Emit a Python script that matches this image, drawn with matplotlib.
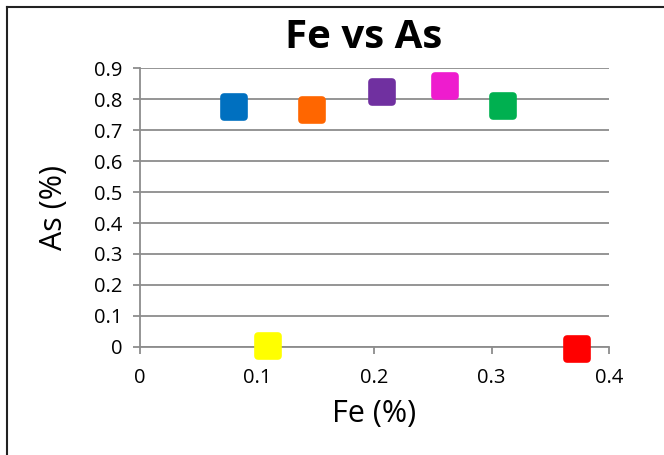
import matplotlib
matplotlib.use('Agg')
from matplotlib import pyplot as plt
from matplotlib.markers import MarkerStyle
from matplotlib.lines import Line2D

plt.rcParams['font.family'] = ['Open Sans', 'DejaVu Sans']

# data
fe = [0.08, 0.147, 0.206, 0.26, 0.31, 0.109, 0.373]
as_ = [0.775, 0.765, 0.823, 0.842, 0.777, 0.003, -0.006]
colors = ['#0070C0', '#FF6600', '#7030A0', '#EE1CCE', '#00B050', '#FFFF00', '#FF0000']

x_ticks = [0, 0.1, 0.2, 0.3, 0.4]
y_ticks = [0, 0.1, 0.2, 0.3, 0.4, 0.5, 0.6, 0.7, 0.8, 0.9]

fig = plt.figure(figsize=(6.64, 4.55), dpi=100)
ax = fig.add_axes([0.211, 0.2374, 0.706, 0.6131])

mk = MarkerStyle('s', joinstyle='round')
for x, y, c in zip(fe, as_, colors):
    ax.plot([x], [y], linestyle='none', marker=mk, markersize=15,
            markerfacecolor=c, markeredgecolor=c, markeredgewidth=5.5,
            zorder=3, clip_on=False)

ax.set_xlim(0, 0.4)
ax.set_ylim(0, 0.9)
ax.set_xticks(x_ticks)
ax.set_yticks(y_ticks)
ax.set_xticklabels(['0', '0.1', '0.2', '0.3', '0.4'])
ax.set_yticklabels(['0', '0.1', '0.2', '0.3', '0.4', '0.5', '0.6', '0.7', '0.8', '0.9'])
ax.grid(axis='y', color='#8c8c8c', linewidth=1.3)
ax.set_axisbelow(True)
for s in ['top', 'right']:
    ax.spines[s].set_visible(False)
ax.spines['left'].set_color('#8c8c8c')
ax.spines['bottom'].set_color('#8c8c8c')
ax.spines['left'].set_linewidth(1.3)
ax.spines['bottom'].set_linewidth(1.3)
ax.tick_params(axis='both', colors='#8c8c8c', labelcolor='black', labelsize=14.5,
               length=5, width=1.3, direction='out')
ax.tick_params(axis='x', pad=10)
ax.tick_params(axis='y', pad=8)

ax.set_xlabel('Fe (%)', fontsize=22, labelpad=8)
ax.set_ylabel('As (%)', fontsize=22, labelpad=18)
fig.text(0.548, 0.918, 'Fe vs As', ha='center', va='center', fontsize=29, fontweight='bold')

# chart border (top and left edges visible)
fig.add_artist(Line2D([0.011, 0.011], [0, 0.984], color='#222222', linewidth=1.5,
                      transform=fig.transFigure))
fig.add_artist(Line2D([0.011, 1], [0.984, 0.984], color='#222222', linewidth=1.5,
                      transform=fig.transFigure))

fig.savefig('out.png', dpi=100)
